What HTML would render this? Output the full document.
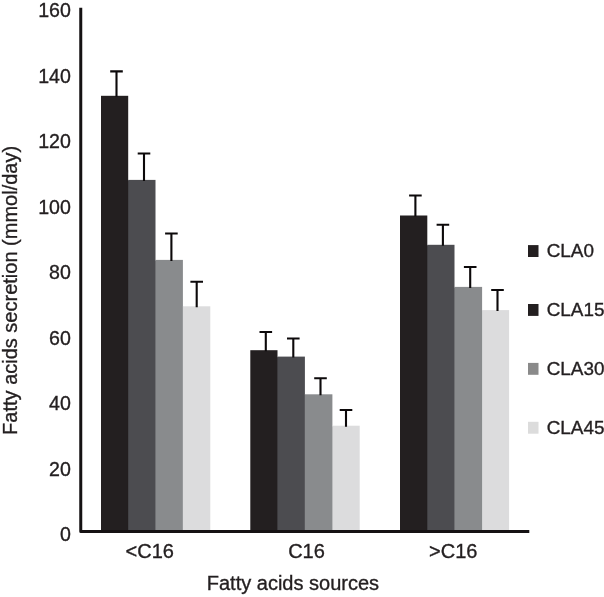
<!DOCTYPE html>
<html><head><meta charset="utf-8"><title>Fatty acids secretion</title>
<style>
html,body{margin:0;padding:0;background:#fff;}
svg{display:block;}
text{font-family:"Liberation Sans",Arial,Helvetica,sans-serif;fill:#231f20;stroke:#231f20;stroke-width:0.35px;}
</style></head><body>
<svg width="604" height="597" viewBox="0 0 604 597">
<rect width="604" height="597" fill="#fff"/>
<rect x="101.0" y="95.8" width="27.2" height="435.8" fill="#231f20"/>
<rect x="127.8" y="180.5" width="1.2" height="351.1" fill="#231f20"/>
<rect x="128.2" y="179.9" width="27.3" height="351.7" fill="#4c4c50"/>
<rect x="155.1" y="260.5" width="1.2" height="271.1" fill="#4c4c50"/>
<rect x="155.5" y="259.9" width="27.4" height="271.7" fill="#898b8d"/>
<rect x="182.5" y="306.9" width="1.2" height="224.7" fill="#898b8d"/>
<rect x="182.9" y="306.3" width="27.4" height="225.3" fill="#dcdcdd"/>
<path d="M110.2 71.4H122.8M116.5 71.4V96.8" stroke="#0c090a" stroke-width="2.1" fill="none"/>
<path d="M137.7 153.5H150.3M144.0 153.5V180.9" stroke="#0c090a" stroke-width="2.1" fill="none"/>
<path d="M165.1 233.5H177.7M171.4 233.5V260.9" stroke="#0c090a" stroke-width="2.1" fill="none"/>
<path d="M190.4 281.7H203.0M196.7 281.7V307.3" stroke="#0c090a" stroke-width="2.1" fill="none"/>
<rect x="250.3" y="350.2" width="27.2" height="181.4" fill="#231f20"/>
<rect x="277.1" y="357.2" width="1.2" height="174.4" fill="#231f20"/>
<rect x="277.5" y="356.6" width="27.4" height="175.0" fill="#4c4c50"/>
<rect x="304.5" y="394.9" width="1.2" height="136.7" fill="#4c4c50"/>
<rect x="304.9" y="394.3" width="27.5" height="137.3" fill="#898b8d"/>
<rect x="332.0" y="426.3" width="1.2" height="105.3" fill="#898b8d"/>
<rect x="332.4" y="425.7" width="27.3" height="105.9" fill="#dcdcdd"/>
<path d="M259.5 332.0H272.1M265.8 332.0V351.2" stroke="#0c090a" stroke-width="2.1" fill="none"/>
<path d="M287.0 338.5H299.6M293.3 338.5V357.6" stroke="#0c090a" stroke-width="2.1" fill="none"/>
<path d="M314.2 378.2H326.8M320.5 378.2V395.3" stroke="#0c090a" stroke-width="2.1" fill="none"/>
<path d="M339.7 410.0H352.3M346.0 410.0V426.7" stroke="#0c090a" stroke-width="2.1" fill="none"/>
<rect x="400.0" y="215.5" width="27.3" height="316.1" fill="#231f20"/>
<rect x="426.9" y="245.4" width="1.2" height="286.2" fill="#231f20"/>
<rect x="427.3" y="244.8" width="27.2" height="286.8" fill="#4c4c50"/>
<rect x="454.1" y="287.5" width="1.2" height="244.1" fill="#4c4c50"/>
<rect x="454.5" y="286.9" width="27.6" height="244.7" fill="#898b8d"/>
<rect x="481.7" y="310.7" width="1.2" height="220.9" fill="#898b8d"/>
<rect x="482.1" y="310.1" width="27.0" height="221.5" fill="#dcdcdd"/>
<path d="M409.1 195.5H421.7M415.4 195.5V216.5" stroke="#0c090a" stroke-width="2.1" fill="none"/>
<path d="M436.6 224.8H449.2M442.9 224.8V245.8" stroke="#0c090a" stroke-width="2.1" fill="none"/>
<path d="M463.9 267.0H476.5M470.2 267.0V287.9" stroke="#0c090a" stroke-width="2.1" fill="none"/>
<path d="M491.2 290.0H503.8M497.5 290.0V311.1" stroke="#0c090a" stroke-width="2.1" fill="none"/>
<path d="M80.75 7.7V531.6H529.3" stroke="#151213" stroke-width="3.0" fill="none" stroke-linejoin="round"/>
<text x="70.9" y="17.0" font-size="19.6" text-anchor="end">160</text>
<text x="70.9" y="82.5" font-size="19.6" text-anchor="end">140</text>
<text x="70.9" y="148.1" font-size="19.6" text-anchor="end">120</text>
<text x="70.9" y="213.6" font-size="19.6" text-anchor="end">100</text>
<text x="70.9" y="279.2" font-size="19.6" text-anchor="end">80</text>
<text x="70.9" y="344.8" font-size="19.6" text-anchor="end">60</text>
<text x="70.9" y="410.3" font-size="19.6" text-anchor="end">40</text>
<text x="70.9" y="475.8" font-size="19.6" text-anchor="end">20</text>
<text x="70.9" y="541.4" font-size="19.6" text-anchor="end">0</text>
<text x="149.8" y="557.6" font-size="20" text-anchor="middle">&lt;C16</text>
<text x="306.5" y="557.6" font-size="20" text-anchor="middle">C16</text>
<text x="453.3" y="557.6" font-size="20" text-anchor="middle">&gt;C16</text>
<text x="292.9" y="589.9" font-size="20" text-anchor="middle">Fatty acids sources</text>
<text transform="translate(17.3 290.4) rotate(-90)" font-size="20" text-anchor="middle">Fatty acids secretion (mmol/day)</text>
<rect x="528" y="245.1" width="10.5" height="11.9" fill="#231f20"/>
<text x="546.7" y="256.8" font-size="18.9">CLA0</text>
<rect x="528" y="304.0" width="10.5" height="11.9" fill="#231f20"/>
<text x="546.7" y="315.7" font-size="18.9">CLA15</text>
<rect x="528" y="362.9" width="10.5" height="11.9" fill="#8a8a8a"/>
<text x="546.7" y="374.6" font-size="18.9">CLA30</text>
<rect x="528" y="421.8" width="10.5" height="11.9" fill="#dcdcdc"/>
<text x="546.7" y="433.5" font-size="18.9">CLA45</text>
</svg></body></html>
